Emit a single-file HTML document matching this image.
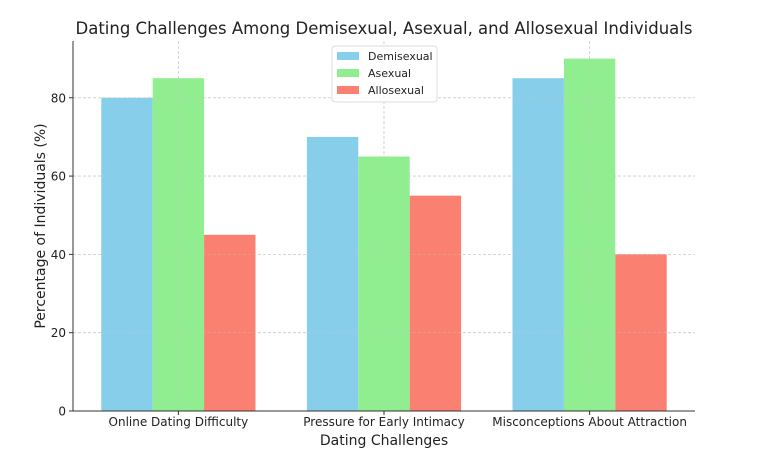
<!DOCTYPE html>
<html><head><meta charset="utf-8"><style>body{margin:0;background:#fff}svg{font-family:"DejaVu Sans","Liberation Sans",sans-serif}</style></head>
<body>
<svg id="c" width="760" height="463"></svg>
<script>
const categories=["Online Dating Difficulty","Pressure for Early Intimacy","Misconceptions About Attraction"];
const seriesNames=["Demisexual","Asexual","Allosexual"];
const demisexual=[80,70,85];
const asexual=[85,65,90];
const allosexual=[45,55,40];
const yTicks=[0,20,40,60,80];
const colors=["#87ceeb","#90ee90","#fa8072"];
const values=[demisexual,asexual,allosexual];
const L=73,R=695,T=41,B=411,yMax=94.5,xMin=-0.5125,xMax=2.5125,bw=0.25;
const sx=v=>L+(v-xMin)/(xMax-xMin)*(R-L);
const sy=v=>B-v/yMax*(B-T);
const svg=document.getElementById('c');const NS="http://www.w3.org/2000/svg";
function mk(t,a,p){const e=document.createElementNS(NS,t);for(const k in a)e.setAttribute(k,a[k]);(p||svg).appendChild(e);return e;}
// grid
yTicks.forEach(v=>{const g=mk('line',{x1:L,x2:R,y1:sy(v),y2:sy(v),stroke:'#d0d0d0','stroke-dasharray':'3,2','stroke-width':0.8});

});
categories.forEach((c,i)=>{const g=mk('line',{x1:sx(i),x2:sx(i),y1:T,y2:B,stroke:'#d0d0d0','stroke-dasharray':'3,2','stroke-width':0.8});

});
// bars
values.forEach((arr,s)=>arr.forEach((v,i)=>{const x0=sx(i+(s-1)*bw-bw/2),x1=sx(i+(s-1)*bw+bw/2);
const r=mk('rect',{x:x0,y:sy(v),width:x1-x0,height:B-sy(v),fill:colors[s]});

}));
// gridlines over bars (matplotlib draws grid on top here)
yTicks.forEach(v=>{if(v>0)mk('line',{x1:L,x2:R,y1:sy(v),y2:sy(v),stroke:'#c8c8c8','stroke-dasharray':'3,2','stroke-width':0.6,opacity:0.6});});
categories.forEach((c,i)=>mk('line',{x1:sx(i),x2:sx(i),y1:T,y2:B,stroke:'#c8c8c8','stroke-dasharray':'3,2','stroke-width':0.6,opacity:0.6}));
// axes
const ax=mk('path',{d:`M${L},${T}V${B}H${R}`,fill:'none',stroke:'#333','stroke-width':1});


yTicks.forEach(v=>{mk('line',{x1:L-4,x2:L,y1:sy(v),y2:sy(v),stroke:'#333'});
const t=mk('text',{x:L-7,y:sy(v)+4.5,'text-anchor':'end','font-size':12,fill:'#222'});t.textContent=v;

});
categories.forEach((c,i)=>{mk('line',{x1:sx(i),x2:sx(i),y1:B,y2:B+4,stroke:'#333'});
const t=mk('text',{x:sx(i),y:B+15,'text-anchor':'middle','font-size':12,fill:'#222'});t.textContent=c;

});
let t=mk('text',{x:384,y:445,'text-anchor':'middle','font-size':14,fill:'#222'});t.textContent="Dating Challenges";


t=mk('text',{x:45,y:226,'text-anchor':'middle','font-size':14,fill:'#222',transform:'rotate(-90 45 226)'});t.textContent="Percentage of Individuals (%)";


t=mk('text',{x:384,y:34,'text-anchor':'middle','font-size':16.5,fill:'#222'});t.textContent="Dating Challenges Among Demisexual, Asexual, and Allosexual Individuals";


// legend
const lg=mk('g',{});


mk('rect',{x:332,y:46,width:105,height:56,rx:3,fill:'#fff','fill-opacity':0.85,stroke:'#ddd'},lg);
seriesNames.forEach((n,s)=>{const y=52+s*17;
mk('rect',{x:337,y:y,width:22,height:8,fill:colors[s]},lg);
const e=mk('text',{x:368,y:y+8,'font-size':11,fill:'#222'},lg);e.textContent=n;

});
</script>
</body></html>
